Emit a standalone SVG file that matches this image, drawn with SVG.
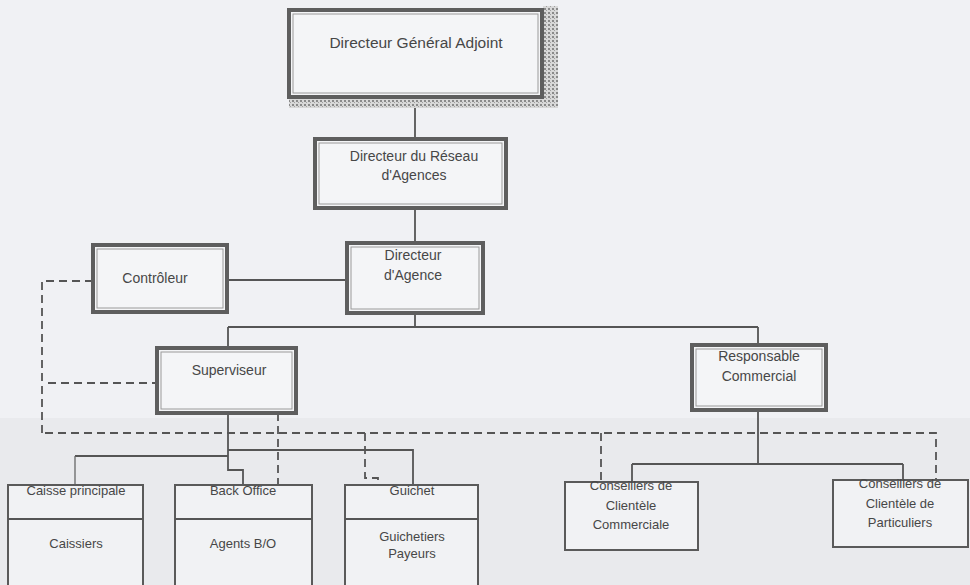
<svg xmlns="http://www.w3.org/2000/svg" width="970" height="585" viewBox="0 0 970 585">
<defs>
<pattern id="hatch" width="4" height="4" patternUnits="userSpaceOnUse">
<rect width="4" height="4" fill="#d8d8d8"/>
<rect x="0" y="0" width="2" height="2" fill="#8a8a8a"/>
<rect x="2" y="2" width="1" height="1" fill="#a0a0a0"/>
</pattern>
</defs>
<style>
.bg{fill:#f0f1f4}
.band{fill:#e9eaed}
.box{fill:#f4f5f7;stroke:#5e5e5e;stroke-width:4}
.inner{fill:none;stroke:#9a9a9a;stroke-width:1}
.sbox{fill:#f1f2f4;stroke:#5a5a5a;stroke-width:2}
.t{font-family:"Liberation Sans",Arial,sans-serif;font-size:14px;fill:#474747;text-anchor:middle}
.big{font-size:15.5px}
.sm{font-size:13px}
.solid{fill:none;stroke:#555;stroke-width:1.8}
.thin{fill:none;stroke:#666;stroke-width:1.3}
.dash{fill:none;stroke:#555;stroke-width:1.8;stroke-dasharray:8 5}
</style>
<rect class="bg" x="0" y="0" width="970" height="585"/>
<rect class="band" x="0" y="418" width="970" height="167"/>

<g id="connectors">
<path class="solid" d="M415 97V139"/>
<path class="solid" d="M415 208V243"/>
<path class="solid" d="M227 280H347"/>
<path class="solid" d="M415 313V327M228 327H758M228 327V348M758 327V345"/>
<path class="solid" d="M228 413V470H243V485"/>
<path class="solid" d="M75 456H228"/>
<path class="thin" d="M75 456V485"/>
<path class="solid" d="M228 450H413V485"/>
<path class="solid" d="M758 410V464M632 464H903M632 464V482M903 464V480"/>
<path class="dash" d="M93 281H42V435"/>
<path class="dash" d="M48 383H157"/>
<path class="dash" d="M45 433H936V480"/>
<path class="dash" d="M601 433V482"/>
<path class="dash" d="M278 413V485"/>
<path class="dash" d="M365 433V478H378V485"/>
</g>

<g id="dga">
<rect x="543" y="6" width="15" height="102" fill="url(#hatch)"/>
<rect x="289" y="97" width="269" height="11" fill="url(#hatch)"/>
<rect class="box" x="289" y="10" width="253" height="87"/>
<rect class="inner" x="293" y="14" width="245" height="79"/>
<text class="t big" x="416" y="48">Directeur Général Adjoint</text>
</g>

<g id="dra">
<rect class="box" x="315" y="139" width="191" height="69"/>
<rect class="inner" x="319" y="143" width="183" height="61"/>
<text class="t" x="414" y="161">Directeur du Réseau</text>
<text class="t" x="414" y="180">d'Agences</text>
</g>

<g id="controleur">
<rect class="box" x="93" y="245" width="134" height="67"/>
<rect class="inner" x="97" y="249" width="126" height="59"/>
<text class="t" x="155" y="283">Contrôleur</text>
</g>

<g id="directeur-agence">
<rect class="box" x="347" y="243" width="136" height="70"/>
<rect class="inner" x="351" y="247" width="128" height="62"/>
<text class="t" x="413" y="260">Directeur</text>
<text class="t" x="413" y="280">d'Agence</text>
</g>

<g id="superviseur">
<rect class="box" x="157" y="348" width="139" height="65"/>
<rect class="inner" x="161" y="352" width="131" height="57"/>
<text class="t" x="229" y="375">Superviseur</text>
</g>

<g id="responsable-commercial">
<rect class="box" x="692" y="345" width="134" height="65"/>
<rect class="inner" x="696" y="349" width="126" height="57"/>
<text class="t" x="759" y="361">Responsable</text>
<text class="t" x="759" y="381">Commercial</text>
</g>

<g id="caisse">
<rect class="sbox" x="8" y="485" width="135" height="110"/>
<path class="solid" d="M8 519H143"/>
<text class="t sm" x="76" y="495">Caisse principale</text>
<text class="t sm" x="76" y="548">Caissiers</text>
</g>

<g id="back-office">
<rect class="sbox" x="175" y="485" width="137" height="110"/>
<path class="solid" d="M175 519H312"/>
<text class="t sm" x="243" y="495">Back Office</text>
<text class="t sm" x="243" y="548">Agents B/O</text>
</g>

<g id="guichet">
<rect class="sbox" x="345" y="485" width="133" height="110"/>
<path class="solid" d="M345 519H478"/>
<text class="t sm" x="412" y="495">Guichet</text>
<text class="t sm" x="412" y="541">Guichetiers</text>
<text class="t sm" x="412" y="558">Payeurs</text>
</g>

<g id="ccc">
<rect class="sbox" x="565" y="482" width="133" height="68"/>
<text class="t sm" x="631" y="490">Conseillers de</text>
<text class="t sm" x="631" y="510">Clientèle</text>
<text class="t sm" x="631" y="529">Commerciale</text>
</g>

<g id="ccp">
<rect class="sbox" x="833" y="480" width="135" height="67"/>
<text class="t sm" x="900" y="488">Conseillers de</text>
<text class="t sm" x="900" y="508">Clientèle de</text>
<text class="t sm" x="900" y="527">Particuliers</text>
</g>
</svg>
